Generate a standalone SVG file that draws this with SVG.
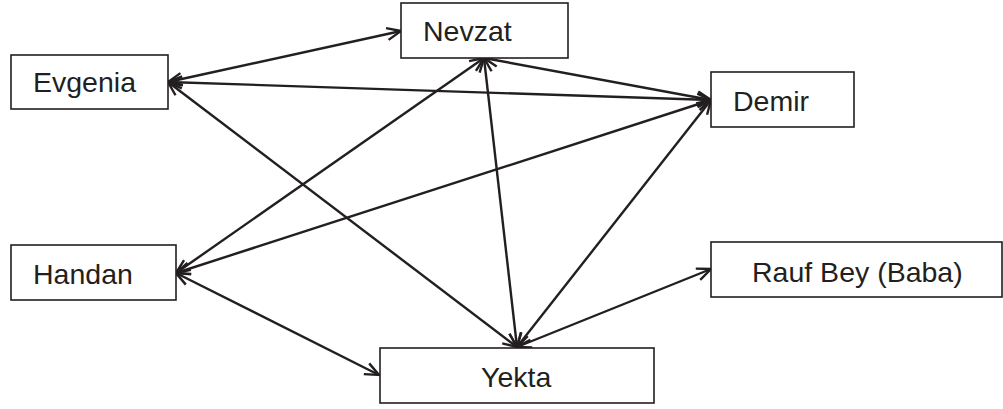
<svg xmlns="http://www.w3.org/2000/svg" width="1003" height="409" viewBox="0 0 1003 409">
<style>
.box{fill:#fff;stroke:#231f20;stroke-width:1.6}
.lbl{font-family:"Liberation Sans",Arial,sans-serif;font-size:28.5px;fill:#231f20}
.edge{stroke:#231f20;stroke-width:2.4;fill:none;marker-start:url(#ah);marker-end:url(#ah)}
</style>
<defs>
<marker id="ah" markerUnits="userSpaceOnUse" viewBox="-15 -8 17 16" refX="0" refY="0" markerWidth="17" markerHeight="16" orient="auto-start-reverse" overflow="visible">
<path d="M-14,-6 L0,0 L-14,6" fill="none" stroke="#231f20" stroke-width="2.4"/>
</marker>
</defs>
<rect width="1003" height="409" fill="#fff"/>
<g id="connectors">
<line class="edge" x1="168" y1="82" x2="401" y2="31"/>
<line class="edge" x1="168" y1="82" x2="711" y2="100"/>
<line class="edge" x1="168" y1="82" x2="517" y2="347"/>
<line class="edge" x1="484" y1="58" x2="711" y2="100"/>
<line class="edge" x1="484" y1="58" x2="176" y2="273"/>
<line class="edge" x1="484" y1="58" x2="517" y2="347"/>
<line class="edge" x1="711" y1="100" x2="176" y2="273"/>
<line class="edge" x1="711" y1="100" x2="517" y2="347"/>
<line class="edge" x1="176" y1="273" x2="379" y2="375"/>
<line class="edge" x1="517" y1="347" x2="711" y2="269"/>
</g>
<g id="evgenia"><rect class="box" x="11" y="55" width="157" height="54"/><text class="lbl" x="33" y="92">Evgenia</text></g>
<g id="nevzat"><rect class="box" x="401" y="3" width="167" height="55"/><text class="lbl" x="423" y="41">Nevzat</text></g>
<g id="demir"><rect class="box" x="711" y="72" width="143" height="55"/><text class="lbl" x="733" y="111">Demir</text></g>
<g id="handan"><rect class="box" x="11" y="245" width="165" height="55"/><text class="lbl" x="33" y="284">Handan</text></g>
<g id="yekta"><rect class="box" x="380" y="348" width="274" height="55"/><text class="lbl" x="481" y="387">Yekta</text></g>
<g id="rauf"><rect class="box" x="711" y="242" width="291" height="55"/><text class="lbl" x="752" y="282">Rauf Bey (Baba)</text></g>
</svg>
